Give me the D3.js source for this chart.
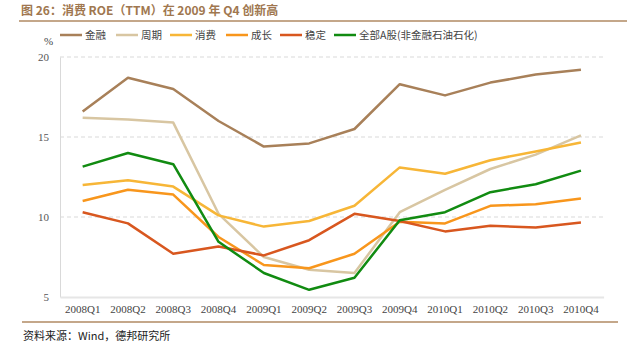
<!DOCTYPE html>
<html>
<head>
<meta charset="utf-8">
<script src="https://cdn.jsdelivr.net/npm/d3@7"></script>
<style>
  body { margin: 0; background: #fff; }
  svg { display: block; }
</style>
</head>
<body>
<script>
// quarters on the x axis
var quarters = ["2008Q1","2008Q2","2008Q3","2008Q4","2009Q1","2009Q2","2009Q3","2009Q4","2010Q1","2010Q2","2010Q3","2010Q4"];
var yTicks = [5, 10, 15, 20];

// ROE (TTM) per style
var jinrong  = [16.6, 18.7, 18.0, 16.0, 14.4, 14.6, 15.5, 18.3, 17.6, 18.4, 18.9, 19.2];
var zhouqi   = [16.2, 16.1, 15.9, 10.2, 7.5, 6.7, 6.5, 10.3, 11.7, 13.0, 13.9, 15.1];
var xiaofei  = [12.0, 12.3, 11.9, 10.1, 9.4, 9.75, 10.7, 13.1, 12.7, 13.55, 14.1, 14.65];
var chengzhang = [11.0, 11.7, 11.4, 8.75, 7.0, 6.8, 7.7, 9.7, 9.6, 10.7, 10.8, 11.15];
var wending  = [10.3, 9.6, 7.7, 8.15, 7.6, 8.55, 10.2, 9.75, 9.1, 9.45, 9.35, 9.65];
var quanbu   = [13.15, 14.0, 13.3, 8.45, 6.5, 5.45, 6.2, 9.8, 10.3, 11.55, 12.05, 12.9];

var series = [
  {name: "金融", values: jinrong, color: "#a88059"},
  {name: "周期", values: zhouqi, color: "#d8c6a2"},
  {name: "消费", values: xiaofei, color: "#f7b637"},
  {name: "成长", values: chengzhang, color: "#f8961c"},
  {name: "稳定", values: wending, color: "#d8571f"},
  {name: "全部A股(非金融石油石化)", values: quanbu, color: "#118b11"}
];

var W = 627, H = 353;
var svg = d3.select("body").append("svg").attr("width", W).attr("height", H);

// title + rules
svg.append("text")
  .attr("x", 21).attr("y", 15)
  .attr("font-family", "'Noto Sans CJK SC', sans-serif")
  .attr("font-size", 12).attr("font-weight", "bold")
  .attr("fill", "#a0774f")
  .text("图 26：消费 ROE（TTM）在 2009 年 Q4 创新高");
svg.append("line").attr("x1", 19).attr("x2", 627).attr("y1", 21).attr("y2", 21)
  .attr("stroke", "#b08a63").attr("stroke-width", 1.5);
svg.append("line").attr("x1", 22).attr("x2", 618).attr("y1", 322).attr("y2", 322)
  .attr("stroke", "#b08a63").attr("stroke-width", 1.5);

svg.append("text")
  .attr("x", 23).attr("y", 340)
  .attr("font-family", "'Noto Sans CJK SC', sans-serif")
  .attr("font-size", 11).attr("fill", "#222")
  .text("资料来源：Wind，德邦研究所");

// scales
var x = d3.scaleBand().domain(quarters).range([60, 603.6]);
var y = d3.scaleLinear().domain([5, 20]).range([297, 57]);

// gridlines
svg.append("g").selectAll("line")
  .data(yTicks.filter(d => d > 5))
  .join("line")
  .attr("x1", 60).attr("x2", 603)
  .attr("y1", d => y(d)).attr("y2", d => y(d))
  .attr("stroke", "#d9d9d9").attr("stroke-dasharray", "4,3");

// axes
var yAxis = svg.append("g").attr("transform", "translate(60,0)")
  .call(d3.axisLeft(y).tickValues(yTicks).tickSize(0).tickPadding(11));
yAxis.select(".domain").attr("stroke", "#d9d9d9");
yAxis.selectAll("text")
  .attr("font-family", "'Liberation Serif', serif").attr("font-size", 11)
  .attr("fill", "#555");

var xAxis = svg.append("g").attr("transform", "translate(0,297)")
  .call(d3.axisBottom(x).tickSize(0).tickPadding(8));
xAxis.select(".domain").attr("stroke", "#e6e6e6").attr("stroke-width", 2);
xAxis.selectAll("text")
  .attr("font-family", "'Liberation Serif', serif").attr("font-size", 11)
  .attr("fill", "#444");

svg.append("text").attr("x", 44).attr("y", 45)
  .attr("font-family", "'Liberation Serif', serif").attr("font-size", 11)
  .attr("fill", "#444").text("%");

// lines
var line = d3.line()
  .x((d, i) => x(quarters[i]) + x.bandwidth() / 2)
  .y(d => y(d));

svg.append("g").selectAll("path")
  .data(series)
  .join("path")
  .attr("d", d => line(d.values))
  .attr("fill", "none")
  .attr("stroke", d => d.color)
  .attr("stroke-width", 2.5)
  .attr("stroke-linejoin", "round");

// legend
var legendX = [60, 116, 170, 226, 280, 334];
var legend = svg.append("g").selectAll("g")
  .data(series)
  .join("g")
  .attr("transform", (d, i) => "translate(" + legendX[i] + ",35)");
legend.append("line")
  .attr("x1", 0).attr("x2", 22)
  .attr("stroke", d => d.color).attr("stroke-width", 2.5);
legend.append("text")
  .attr("x", 25).attr("y", 4)
  .attr("font-family", "'Noto Sans CJK SC', sans-serif")
  .attr("font-size", 10.5).attr("fill", "#444")
  .text(d => d.name);
</script>
</body>
</html>
